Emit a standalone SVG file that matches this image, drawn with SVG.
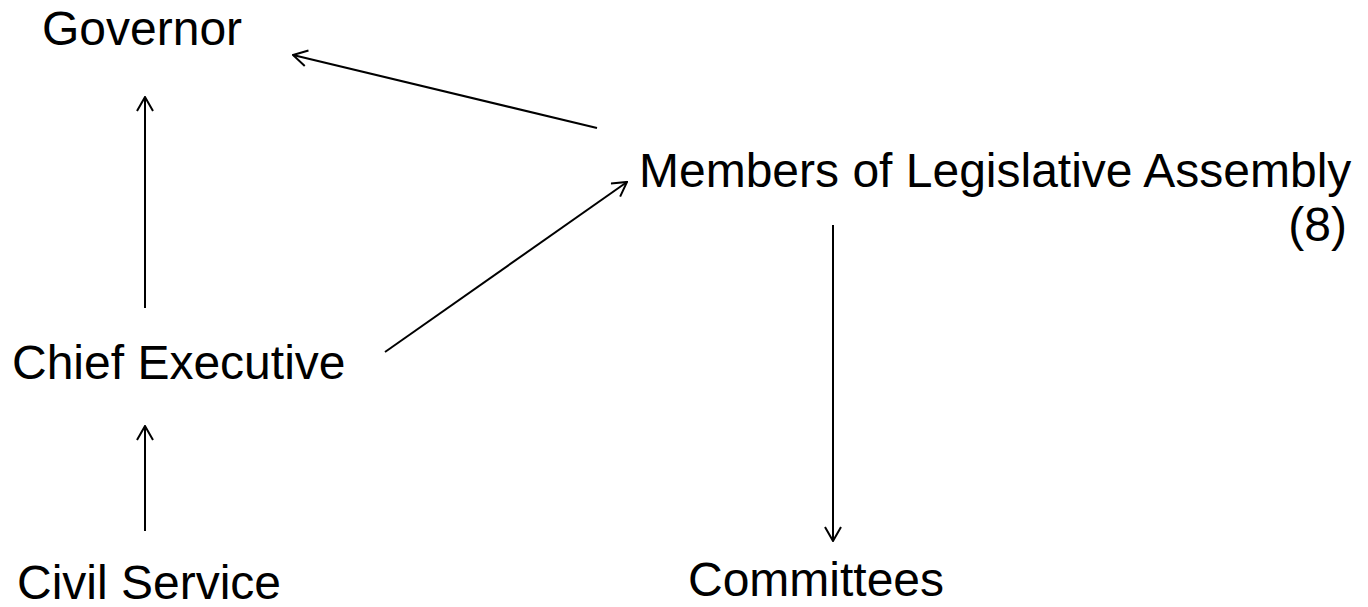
<svg xmlns="http://www.w3.org/2000/svg" width="1368" height="607" viewBox="0 0 1368 607">
<style>
.t{font-family:"Liberation Sans",Arial,sans-serif;font-size:48px;fill:#000}
.c{stroke:#000;stroke-width:2;fill:none}
</style>
<defs>
<marker id="ah" viewBox="0 0 16 18" refX="15" refY="9" markerWidth="16" markerHeight="18" markerUnits="userSpaceOnUse" orient="auto">
<path d="M1,1 L15,9 L1,17" fill="none" stroke="#000" stroke-width="2"/>
</marker>
</defs>
<rect width="1368" height="607" fill="#fff"/>
<g id="governor"><text class="t" x="42" y="45">Governor</text></g>
<g id="mla"><text class="t" x="639" y="187">Members of Legislative Assembly</text><text class="t" x="1347" y="241" text-anchor="end">(8)</text></g>
<g id="chief"><text class="t" x="12" y="379">Chief Executive</text></g>
<g id="civil"><text class="t" x="17" y="599">Civil Service</text></g>
<g id="committees"><text class="t" x="688" y="596">Committees</text></g>
<g id="connectors">
<line class="c" x1="597" y1="128" x2="293" y2="55" marker-end="url(#ah)"/>
<line class="c" x1="145" y1="308" x2="145" y2="97" marker-end="url(#ah)"/>
<line class="c" x1="385" y1="352" x2="627" y2="182" marker-end="url(#ah)"/>
<line class="c" x1="145" y1="531" x2="145" y2="426" marker-end="url(#ah)"/>
<line class="c" x1="833" y1="225" x2="833" y2="541" marker-end="url(#ah)"/>
</g>
</svg>
